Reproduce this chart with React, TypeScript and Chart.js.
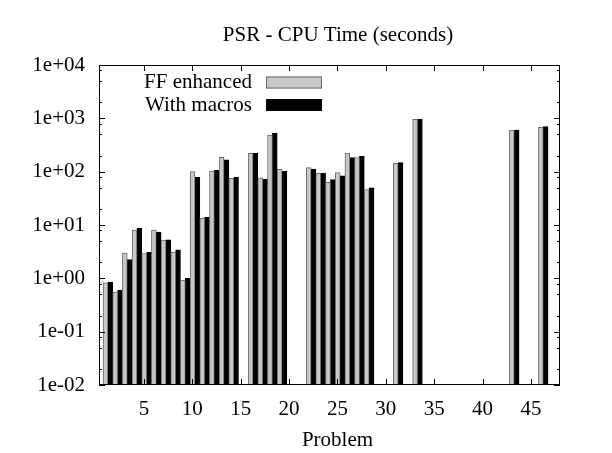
import React, { useEffect, useRef } from "react";
import { Chart, registerables } from "chart.js";

Chart.register(...registerables);

const TITLE = "PSR - CPU Time (seconds)";
const X_LABEL = "Problem";
const SERIES_NAMES = ["FF enhanced", "With macros"];

const PROBLEMS = [1, 2, 3, 4, 5, 6, 7, 8, 9, 10, 11, 12, 13, 14, 16, 17, 18, 19, 22, 23, 24, 25, 26, 27, 28, 31, 33, 43, 46];
const FF_ENHANCED = [0.82, 0.555, 2.99, 8.06, 2.9, 8.06, 5.24, 3.12, 0.93, 100, 13.3, 103, 186, 75, 221, 77, 487, 111, 119, 93, 63, 95.7, 224, 183, 46, 143, 958, 604, 678];
const WITH_MACROS = [0.85, 0.6, 2.24, 8.8, 3.08, 7.4, 5.3, 3.44, 1.0, 78, 14.1, 106, 166, 79.4, 221, 72, 524, 101.5, 112, 93, 70.8, 84, 183, 194, 50, 147.5, 958, 600, 698];

const X_TICKS = [5, 10, 15, 20, 25, 30, 35, 40, 45];
const Y_TICKS = [1e-2, 1e-1, 1, 10, 100, 1000, 10000];
const Y_MINOR_FACTORS = [2, 5, 8];

const X_MIN = 0.35;
const X_MAX = 48.0;
const X_SHIFT = 0.27; // offset of bar clusters relative to tick positions

const FONT_FAMILY = '"Liberation Serif", "Times New Roman", serif';
const FONT_SIZE = 21;

const GRAY_FILL = "#c8c8c8";
const GRAY_EDGE = "#6a6a6a";
const BLACK = "#000000";

function fmtExp(v: number): string {
  const e = Math.round(Math.log10(v));
  const sign = e >= 0 ? "+" : "-";
  return "1e" + sign + String(Math.abs(e)).padStart(2, "0");
}

const framePlugin = {
  id: "gnuframe",
  afterDatasetsDraw(chart: any) {
    const { ctx, chartArea, scales } = chart;
    const { left, right, top, bottom } = chartArea;
    const x = scales.x;
    const y = scales.y;
    ctx.save();
    ctx.strokeStyle = "#000";
    ctx.lineWidth = 1;
    ctx.beginPath();
    // ticks on x (bottom + mirrored top)
    X_TICKS.forEach((t) => {
      const px = Math.round(x.getPixelForValue(t - X_SHIFT)) + 0.5;
      ctx.moveTo(px, bottom);
      ctx.lineTo(px, bottom - 6);
      ctx.moveTo(px, top);
      ctx.lineTo(px, top + 6);
    });
    // major y ticks
    Y_TICKS.forEach((v) => {
      const py = Math.round(y.getPixelForValue(v)) + 0.5;
      ctx.moveTo(left, py);
      ctx.lineTo(left + 6, py);
      ctx.moveTo(right, py);
      ctx.lineTo(right - 6, py);
    });
    // minor y ticks
    for (let i = 0; i < Y_TICKS.length - 1; i++) {
      Y_MINOR_FACTORS.forEach((f) => {
        const py = Math.round(y.getPixelForValue(Y_TICKS[i] * f)) + 0.5;
        ctx.moveTo(left, py);
        ctx.lineTo(left + 3, py);
        ctx.moveTo(right, py);
        ctx.lineTo(right - 3, py);
      });
    }
    ctx.stroke();
    // frame
    ctx.strokeRect(left + 0.5, top + 0.5, right - left - 1, bottom - top - 1);
    ctx.restore();
  },
  afterDraw(chart: any) {
    const { ctx, chartArea } = chart;
    const { left, right } = chartArea;
    ctx.save();
    ctx.fillStyle = "#000";
    ctx.font = `${FONT_SIZE}px ${FONT_FAMILY}`;
    // title
    ctx.textAlign = "center";
    ctx.textBaseline = "middle";
    ctx.fillText(TITLE, 338, 35);
    // x label
    ctx.fillText(X_LABEL, 337.5, 440.5);
    // legend
    const rows = [
      { y: 82.5 },
      { y: 105 },
    ];
    chart.data.datasets.forEach((ds: any, i: number) => {
      const cy = rows[i].y;
      ctx.textAlign = "right";
      ctx.textBaseline = "middle";
      ctx.fillStyle = "#000";
      ctx.fillText(ds.label, 252, cy);
      ctx.fillStyle = ds.backgroundColor;
      ctx.fillRect(266, cy - 6, 56, 12);
      ctx.strokeStyle = ds.borderColor;
      ctx.lineWidth = 1;
      ctx.strokeRect(266.5, cy - 5.5, 55, 11);
    });
    ctx.restore();
  },
};

export default function App() {
  const ref = useRef<HTMLCanvasElement>(null);

  useEffect(() => {
    const canvas = ref.current;
    if (!canvas) return;
    const font = { family: FONT_FAMILY, size: FONT_SIZE };
    const chart = new Chart(canvas, {
      type: "bar",
      data: {
        datasets: [
          {
            label: SERIES_NAMES[0],
            data: PROBLEMS.map((p, i) => ({ x: p, y: FF_ENHANCED[i] })),
            backgroundColor: GRAY_FILL,
            borderColor: GRAY_EDGE,
            borderWidth: 1,
            barPercentage: 1,
            categoryPercentage: 1,
          },
          {
            label: SERIES_NAMES[1],
            data: PROBLEMS.map((p, i) => ({ x: p, y: WITH_MACROS[i] })),
            backgroundColor: BLACK,
            borderColor: BLACK,
            borderWidth: 1,
            barPercentage: 1,
            categoryPercentage: 1,
          },
        ],
      },
      options: {
        responsive: false,
        animation: false,
        devicePixelRatio: 1,
        layout: { padding: { top: 65, right: 52, left: 0, bottom: 0 } },
        plugins: {
          legend: { display: false },
          title: { display: false },
          tooltip: { enabled: false },
        },
        scales: {
          x: {
            type: "linear",
            min: X_MIN - X_SHIFT,
            max: X_MAX - X_SHIFT,
            offset: false,
            grid: { display: false, drawTicks: false, offset: false },
            border: { display: false },
            afterBuildTicks: (s: any) => {
              s.ticks = X_TICKS.map((v) => ({ value: v - X_SHIFT }));
            },
            afterFit: (s: any) => {
              s.height = 68;
            },
            ticks: {
              autoSkip: false,
              maxRotation: 0,
              minRotation: 0,
              padding: 12,
              color: "#000",
              font,
              callback: (v: any) => String(Math.round(Number(v) + X_SHIFT)),
            },
          },
          y: {
            type: "logarithmic",
            min: 0.01,
            max: 10000,
            grid: { display: false, drawTicks: false },
            border: { display: false },
            afterBuildTicks: (s: any) => {
              s.ticks = Y_TICKS.map((v) => ({ value: v }));
            },
            afterFit: (s: any) => {
              s.width = 99;
            },
            ticks: {
              autoSkip: false,
              padding: 14,
              color: "#000",
              font,
              callback: (v: any) => fmtExp(Number(v)),
            },
          },
        },
      } as any,
      plugins: [framePlugin],
    });
    return () => chart.destroy();
  }, []);

  return (
    <canvas
      ref={ref}
      width={612}
      height={453}
      style={{ position: "fixed", left: 0, top: 0, width: 612, height: 453, background: "#fff" }}
    />
  );
}
